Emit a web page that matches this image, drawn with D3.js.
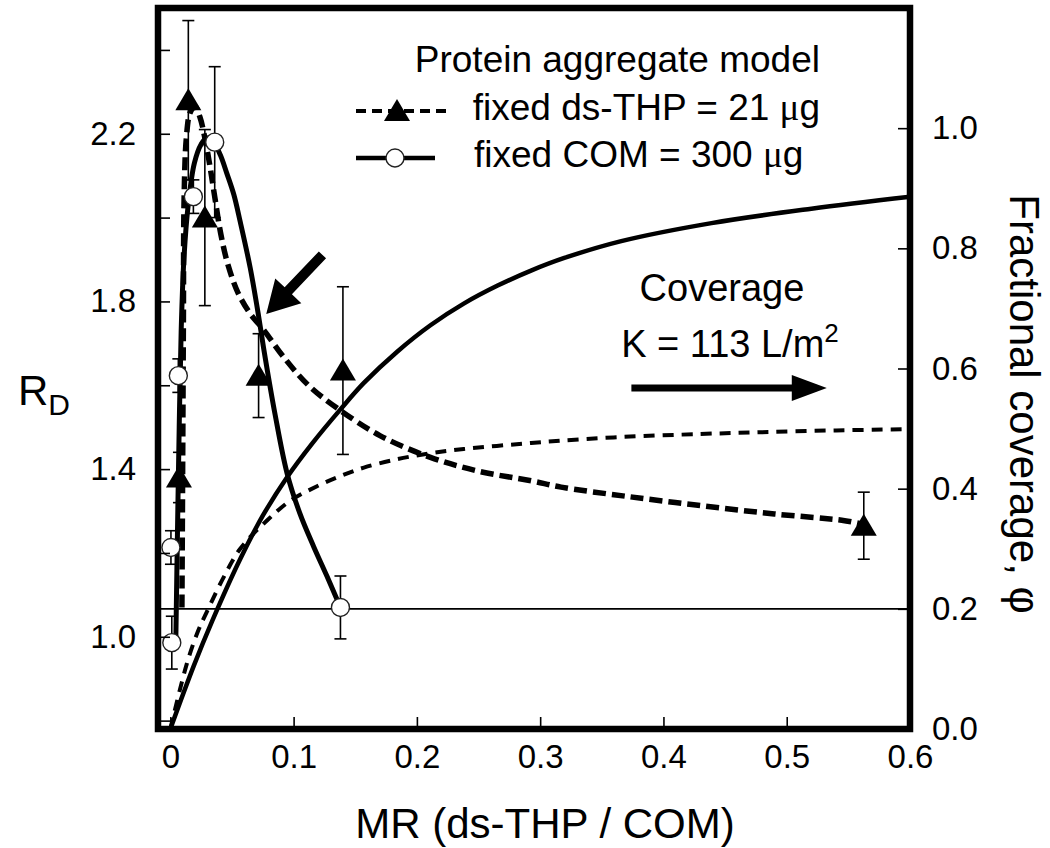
<!DOCTYPE html>
<html><head><meta charset="utf-8">
<script src="https://cdn.jsdelivr.net/npm/d3@7"></script>
<style>
body{margin:0;background:#fff}
text{font-family:"Liberation Sans",Arial,Helvetica,sans-serif;fill:#000}
</style>
</head><body><svg id="c" width="1050" height="848"></svg>
<script>
// ---------- data ----------
const xTicks = [0, 0.1, 0.2, 0.3, 0.4, 0.5, 0.6];
const xTickLabels = ["0", "0.1", "0.2", "0.3", "0.4", "0.5", "0.6"];
const yLeftTicks = [0.8, 1.0, 1.2, 1.4, 1.6, 1.8, 2.0, 2.2, 2.4];
const yLeftLabels = ["", "1.0", "", "1.4", "", "1.8", "", "2.2", ""];
const yRightTicks = [0, 0.2, 0.4, 0.6, 0.8, 1.0];
const yRightLabels = ["0.0", "0.2", "0.4", "0.6", "0.8", "1.0"];

// measured points: fixed ds-THP = 21 ug (triangles)
const triMR  = [0.007, 0.0146, 0.028, 0.0716, 0.14, 0.5625];
const triRD  = [1.38, 2.28, 2.00, 1.623, 1.635, 1.265];
const triErr = [0.06, 0.19, 0.21, 0.10, 0.20, 0.08];

// measured points: fixed COM = 300 ug (circles)
const circMR  = [0.0005, 0.0012, 0.0065, 0.0187, 0.036, 0.138];
const circRD  = [1.213, 0.986, 1.623, 2.05, 2.18, 1.07];
const circErr = [0.04, 0.063, 0.04, 0.04, 0.18, 0.075];

// model curve, fixed ds-THP (thick dashed)
const modelThpMR = [0.0094, 0.0100, 0.0106, 0.0112, 0.013, 0.016, 0.020, 0.024, 0.028, 0.032, 0.036, 0.041, 0.047, 0.055, 0.065, 0.075, 0.092, 0.112, 0.1355, 0.17, 0.211, 0.25, 0.293, 0.317, 0.37, 0.43, 0.49, 0.547, 0.562];
const modelThpRD = [1.07, 1.40, 1.75, 2.05, 2.19, 2.25, 2.265, 2.24, 2.19, 2.125, 2.05, 1.96, 1.885, 1.82, 1.77, 1.735, 1.667, 1.60, 1.545, 1.48, 1.428, 1.395, 1.372, 1.357, 1.335, 1.313, 1.293, 1.277, 1.268];

// model curve, fixed COM (thick solid)
const modelComMR = [0.0045, 0.0058, 0.0072, 0.0088, 0.011, 0.0145, 0.0195, 0.025, 0.0296, 0.035, 0.0405, 0.0459, 0.0515, 0.0567, 0.0648, 0.0716, 0.0756, 0.085, 0.0947, 0.105, 0.1163, 0.127, 0.138];
const modelComRD = [1.00, 1.25, 1.50, 1.73, 1.90, 2.03, 2.13, 2.175, 2.19, 2.18, 2.15, 2.105, 2.055, 1.99, 1.88, 1.765, 1.69, 1.53, 1.39, 1.295, 1.215, 1.145, 1.07];

// fractional coverage (right axis), solid
const covSolidMR  = [0, 0.019, 0.034, 0.0567, 0.075, 0.0947, 0.115, 0.138, 0.157, 0.184, 0.211, 0.238, 0.2655, 0.2926, 0.3196, 0.3658, 0.439, 0.52, 0.6];
const covSolidPhi = [0, 0.105, 0.18, 0.283, 0.355, 0.419, 0.475, 0.532, 0.576, 0.628, 0.672, 0.708, 0.738, 0.763, 0.784, 0.812, 0.842, 0.866, 0.886];

// fractional coverage (right axis), dashed
const covDashMR  = [0, 0.0133, 0.0225, 0.0296, 0.0431, 0.0567, 0.0784, 0.0974, 0.119, 0.138, 0.157, 0.184, 0.211, 0.238, 0.2926, 0.317, 0.366, 0.43, 0.48, 0.54, 0.6];
const covDashPhi = [0, 0.108, 0.163, 0.195, 0.252, 0.300, 0.347, 0.38, 0.404, 0.421, 0.435, 0.449, 0.459, 0.466, 0.476, 0.48, 0.486, 0.491, 0.494, 0.497, 0.499];

const baselinePhi = 0.2;

// annotation arrows (data units)
const arrow1Tail = [0.1234, 1.911], arrow1Tip = [0.0778, 1.770]; // left axis units
const arrow2Tail = [0.374, 0.5676], arrow2Tip = [0.5325, 0.5676]; // right axis units

// ---------- layout ----------
const svg = d3.select("#c");
const L = 158, R = 910, T = 8, B = 729;
const x = d3.scaleLinear([-0.01, 0.6], [L, R]);
const yL = d3.scaleLinear([0.78, 2.5], [B, T]);
const yR = d3.scaleLinear([0, 1.2], [B, T]);

const curve = d3.curveCatmullRom.alpha(0.5);
const zip = (a, b) => a.map((v, i) => [v, b[i]]);

// coverage curves
svg.append("path").datum(zip(covSolidMR, covSolidPhi))
  .attr("d", d3.line().x(d => x(d[0])).y(d => yR(d[1])).curve(curve))
  .attr("fill", "none").attr("stroke", "#000").attr("stroke-width", 4.5);
svg.append("path").datum(zip(covDashMR, covDashPhi))
  .attr("d", d3.line().x(d => x(d[0])).y(d => yR(d[1])).curve(curve))
  .attr("fill", "none").attr("stroke", "#000").attr("stroke-width", 4)
  .attr("stroke-dasharray", "11,8");

// model curves
svg.append("path").datum(zip(modelComMR, modelComRD))
  .attr("d", d3.line().x(d => x(d[0])).y(d => yL(d[1])).curve(curve))
  .attr("fill", "none").attr("stroke", "#000").attr("stroke-width", 5);
svg.append("path").datum(zip(modelThpMR, modelThpRD))
  .attr("d", d3.line().x(d => x(d[0])).y(d => yL(d[1])).curve(curve))
  .attr("fill", "none").attr("stroke", "#000").attr("stroke-width", 5.5)
  .attr("stroke-dasharray", "13,6");

// baseline horizontal
svg.append("line").attr("x1", L).attr("x2", R)
  .attr("y1", yR(baselinePhi)).attr("y2", yR(baselinePhi))
  .attr("stroke", "#000").attr("stroke-width", 1.6);

// error bars
function errBars(mr, rd, err) {
  const g = svg.append("g").attr("stroke", "#000").attr("stroke-width", 1.6);
  mr.forEach((m, i) => {
    const cx = x(m), y1 = yL(rd[i] + err[i]), y2 = yL(rd[i] - err[i]);
    g.append("line").attr("x1", cx).attr("x2", cx).attr("y1", y1).attr("y2", y2);
    g.append("line").attr("x1", cx - 6).attr("x2", cx + 6).attr("y1", y1).attr("y2", y1);
    g.append("line").attr("x1", cx - 6).attr("x2", cx + 6).attr("y1", y2).attr("y2", y2);
  });
}
errBars(triMR, triRD, triErr);
errBars(circMR, circRD, circErr);

const triPath = "M0,-12L13,10L-13,10Z";
svg.append("g").selectAll("path").data(zip(triMR, triRD)).join("path")
  .attr("d", triPath).attr("transform", d => `translate(${x(d[0])},${yL(d[1])})`)
  .attr("fill", "#000");
svg.append("g").selectAll("circle").data(zip(circMR, circRD)).join("circle")
  .attr("cx", d => x(d[0])).attr("cy", d => yL(d[1])).attr("r", 9)
  .attr("fill", "#fff").attr("stroke", "#222").attr("stroke-width", 1.4);

// axes
const fs = 33;
const ax = svg.append("g").attr("transform", `translate(0,${B})`)
  .call(d3.axisBottom(x).tickValues(xTicks).tickSize(-12).tickPadding(16)
    .tickFormat((d, i) => xTickLabels[i]));
const ayl = svg.append("g").attr("transform", `translate(${L},0)`)
  .call(d3.axisLeft(yL).tickValues(yLeftTicks).tickSize(-12).tickPadding(22)
    .tickFormat((d, i) => yLeftLabels[i]));
const ayr = svg.append("g").attr("transform", `translate(${R},0)`)
  .call(d3.axisRight(yR).tickValues(yRightTicks).tickSize(-12).tickPadding(22)
    .tickFormat((d, i) => yRightLabels[i]));
[ax, ayl, ayr].forEach(g => {
  g.select(".domain").remove();
  g.selectAll(".tick line").attr("stroke", "#000").attr("stroke-width", 1.6);
  g.selectAll(".tick text").attr("font-size", fs).attr("fill", "#000")
    .style("font-family", '"Liberation Sans",Arial,sans-serif');
});

// frame
svg.append("rect").attr("x", L).attr("y", T).attr("width", R - L).attr("height", B - T)
  .attr("fill", "none").attr("stroke", "#000").attr("stroke-width", 6.5);

// arrows
function arrow(p0, p1, shaftW, headL, headW) {
  const dx = p1[0] - p0[0], dy = p1[1] - p0[1], len = Math.hypot(dx, dy);
  const ux = dx / len, uy = dy / len, nx = -uy, ny = ux;
  const bx = p1[0] - ux * headL, by = p1[1] - uy * headL;
  const pts = [
    [p0[0] + nx * shaftW / 2, p0[1] + ny * shaftW / 2],
    [bx + nx * shaftW / 2, by + ny * shaftW / 2],
    [bx + nx * headW / 2, by + ny * headW / 2],
    p1,
    [bx - nx * headW / 2, by - ny * headW / 2],
    [bx - nx * shaftW / 2, by - ny * shaftW / 2],
    [p0[0] - nx * shaftW / 2, p0[1] - ny * shaftW / 2]];
  svg.append("polygon").attr("points", pts.map(p => p.join(",")).join(" ")).attr("fill", "#000");
}
arrow([x(arrow1Tail[0]), yL(arrow1Tail[1])], [x(arrow1Tip[0]), yL(arrow1Tip[1])], 10, 32, 36);
arrow([x(arrow2Tail[0]), yR(arrow2Tail[1])], [x(arrow2Tip[0]), yR(arrow2Tip[1])], 7, 35, 26);

// annotation text
svg.append("text").attr("x", 722).attr("y", 301).attr("text-anchor", "middle")
  .attr("font-size", 38).text("Coverage");
const k = svg.append("text").attr("x", 730).attr("y", 357).attr("text-anchor", "middle").attr("font-size", 38);
k.append("tspan").text("K = 113 L/m");
k.append("tspan").attr("font-size", 26).attr("dy", -15).text("2");

// legend
svg.append("text").attr("x", 820).attr("y", 72).attr("text-anchor", "end")
  .attr("font-size", 37).text("Protein aggregate model");
svg.append("line").attr("x1", 356).attr("x2", 447).attr("y1", 111).attr("y2", 111)
  .attr("stroke", "#000").attr("stroke-width", 4).attr("stroke-dasharray", "10,6");
svg.append("path").attr("d", triPath).attr("transform", "translate(397,111)").attr("fill", "#000");
const l2 = svg.append("text").attr("x", 820).attr("y", 120).attr("text-anchor", "end").attr("font-size", 37);
l2.append("tspan").text("fixed ds-THP = 21 ");
l2.append("tspan").style("font-family", '"Liberation Serif","DejaVu Serif",serif').text("μ");
l2.append("tspan").text("g");
svg.append("line").attr("x1", 356).attr("x2", 435).attr("y1", 158).attr("y2", 158)
  .attr("stroke", "#000").attr("stroke-width", 4.5);
svg.append("circle").attr("cx", 395).attr("cy", 158).attr("r", 9)
  .attr("fill", "#fff").attr("stroke", "#222").attr("stroke-width", 1.4);
const l3 = svg.append("text").attr("x", 474).attr("y", 167).attr("font-size", 37);
l3.append("tspan").text("fixed COM = 300 ");
l3.append("tspan").style("font-family", '"Liberation Serif","DejaVu Serif",serif').text("μ");
l3.append("tspan").text("g");

// axis titles
svg.append("text").attr("x", 545).attr("y", 838).attr("text-anchor", "middle")
  .attr("font-size", 42).text("MR (ds-THP / COM)");
const rd = svg.append("text").attr("x", 18).attr("y", 405).attr("font-size", 42);
rd.append("tspan").text("R");
rd.append("tspan").attr("font-size", 30).attr("dy", 10).text("D");
svg.append("text").attr("transform", "translate(1010,404) rotate(90)")
  .attr("text-anchor", "middle").attr("font-size", 42).text("Fractional coverage, φ");
</script>
</body></html>
